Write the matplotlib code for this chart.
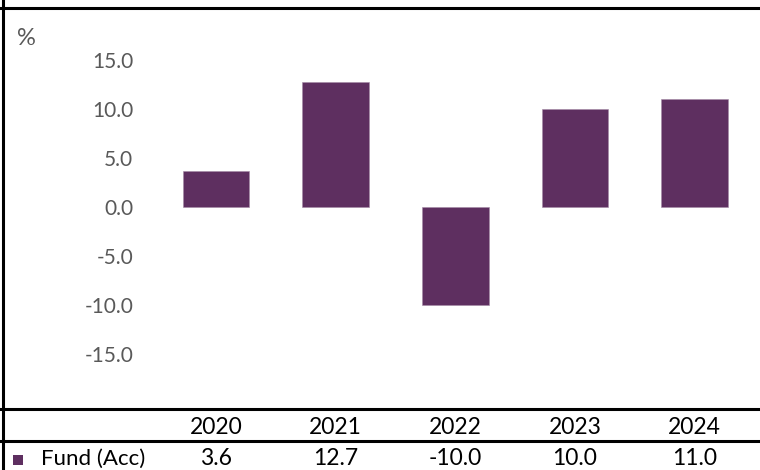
import matplotlib
matplotlib.use("Agg")
import matplotlib.pyplot as plt
import matplotlib.transforms as mtransforms
from matplotlib.lines import Line2D
from matplotlib.patches import Rectangle

plt.rcParams['font.family'] = ['Lato', 'DejaVu Sans']

# data
years = ['2020', '2021', '2022', '2023', '2024']
fund_acc = [3.6, 12.7, -10.0, 10.0, 11.0]
series_name = 'Fund (Acc)'
yticks = [-15, -10, -5, 0, 5, 10, 15]

bar_color = '#5e2f60'
tick_grey = '#595959'

W, H = 760, 470
fig = plt.figure(figsize=(W / 100, H / 100), dpi=100)


def fx(px):
    return px / W


def fy(py):
    return 1 - py / H


# plot area (pixel box)
left, right, top, bottom = 156.2, 754.5, 15.6, 397.8
ax = fig.add_axes([fx(left), fy(bottom), fx(right) - fx(left), fy(top) - fy(bottom)])

x = list(range(len(years)))
ax.bar(x, fund_acc, width=0.556, color=bar_color, edgecolor='#a48aa6', linewidth=0.4)
ax.set_xlim(-0.5, len(years) - 0.5)
ax.set_ylim(-19.5, 19.5)

ax.set_yticks(yticks)
ax.set_yticklabels(['%.1f' % v for v in yticks])
ax.tick_params(axis='y', length=0, pad=16.5, labelsize=15, labelcolor=tick_grey)
ax.set_xticks([])
for s in ax.spines.values():
    s.set_visible(False)
ax.patch.set_alpha(0)

fig.text(fx(17), fy(45), '%', fontsize=17, color=tick_grey, va='baseline', ha='left')

# frame lines
lw = 2.2
fig.add_artist(Line2D([0, 1], [fy(7.8), fy(7.8)], transform=fig.transFigure, color='black', lw=lw))
fig.add_artist(Line2D([fx(2.5), fx(2.5)], [0, 1], transform=fig.transFigure, color='black', lw=lw))
fig.add_artist(Line2D([0, 1], [fy(409.3), fy(409.3)], transform=fig.transFigure, color='black', lw=lw))
fig.add_artist(Line2D([0, 1], [fy(441), fy(441)], transform=fig.transFigure, color='black', lw=lw))

# data table below the chart
trans = mtransforms.blended_transform_factory(ax.transData, fig.transFigure)
for i, (yr, v) in enumerate(zip(years, fund_acc)):
    fig.text(i, fy(433.5), yr, transform=trans, ha='center', va='baseline', fontsize=16.5, color='black')
    fig.text(i, fy(465), '%.1f' % v, transform=trans, ha='center', va='baseline', fontsize=16.5, color='black')

fig.add_artist(Rectangle((fx(13), fy(465)), fx(10), 10 / H, transform=fig.transFigure,
                         facecolor=bar_color, edgecolor='none'))
fig.text(fx(41), fy(465), series_name, ha='left', va='baseline', fontsize=16, color='black')

fig.savefig('out.png', dpi=100)
